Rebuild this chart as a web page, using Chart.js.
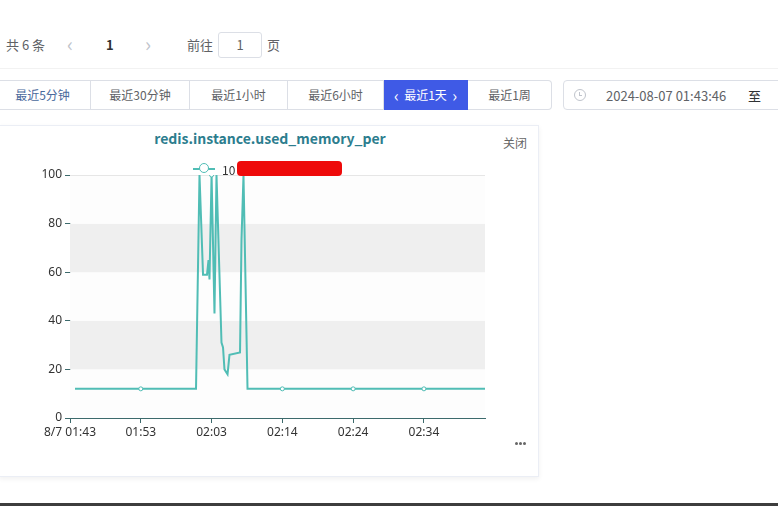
<!DOCTYPE html>
<html>
<head>
<meta charset="utf-8">
<script src="https://cdn.jsdelivr.net/npm/chart.js@4.4.1/dist/chart.umd.min.js"></script>
<style>
  body { margin: 0; width: 778px; height: 506px; overflow: hidden; background: #fff;
         font-family: "Microsoft YaHei", "Noto Sans CJK SC", "Noto Sans", sans-serif; color: #606266; }
  .abs { position: absolute; white-space: nowrap; }
  .pager { top: 36px; font-size: 13px; line-height: 18px; }
  .chev { top: 33px; font-size: 20px; line-height: 22px; color: #c0c4cc; }
  .pin { left: 218px; top: 32px; width: 44px; height: 26px; border: 1px solid #dcdfe6; border-radius: 3px;
         box-sizing: border-box; text-align: center; line-height: 24px; font-size: 13px; color: #606266; }
  .btn { top: 80px; height: 30px; box-sizing: border-box; border: 1px solid #dcdfe6; border-left: none;
         font-size: 12px; line-height: 28px; text-align: center; color: #606266; background: #fff; }
  .btn.on { background: #3f5ae6; border-color: #3f5ae6; color: #fff; }
  .btn.on b { font-weight: normal; font-size: 16px; vertical-align: top; }
  .card { left: -1px; top: 125px; width: 540px; height: 352px; border: 1px solid #ebeef5; box-sizing: border-box;
          box-shadow: 0 2px 5px rgba(0,0,0,0.06); background: #fff; }
  .title { left: 0; width: 540px; top: 128px; text-align: center; font-size: 14px; font-weight: bold; color: #2c7d8e; }
  .dot { top: 442px; width: 3px; height: 3px; border-radius: 50%; background: #666; }
</style>
</head>
<body>
<div class="abs pager" style="left:6px">共 6 条</div>
<div class="abs chev" style="left:67px">&lsaquo;</div>
<div class="abs pager" style="left:106px;font-weight:bold;color:#303133">1</div>
<div class="abs chev" style="left:145px">&rsaquo;</div>
<div class="abs pager" style="left:187px">前往</div>
<div class="abs pin">1</div>
<div class="abs pager" style="left:267px">页</div>
<div class="abs" style="left:0;top:68px;width:778px;height:1px;background:#f2f2f2"></div>

<div class="abs btn" style="left:-6px;width:97px;border-left:1px solid #dcdfe6;color:#4a6a9c">最近5分钟</div>
<div class="abs btn" style="left:91px;width:99px">最近30分钟</div>
<div class="abs btn" style="left:190px;width:98px">最近1小时</div>
<div class="abs btn" style="left:288px;width:96px">最近6小时</div>
<div class="abs btn on" style="left:384px;width:84px"><b>&lsaquo;</b>&nbsp; 最近1天 &nbsp;<b>&rsaquo;</b></div>
<div class="abs btn" style="left:468px;width:84px;border-radius:0 4px 4px 0">最近1周</div>

<div class="abs" style="left:563px;top:80px;width:240px;height:30px;border:1px solid #dcdfe6;border-radius:4px;box-sizing:border-box"></div>
<div class="abs" style="left:574px;top:89px;width:10px;height:10px;border:1px solid #c0c4cc;border-radius:50%"></div>
<div class="abs" style="left:579px;top:92px;width:1px;height:4px;background:#c0c4cc"></div>
<div class="abs" style="left:579px;top:95px;width:3px;height:1px;background:#c0c4cc"></div>
<div class="abs" style="left:606px;top:86px;font-size:13px;color:#606266">2024-08-07 01:43:46</div>
<div class="abs" style="left:748px;top:86px;font-size:13px;color:#303133">至</div>

<div class="abs card"></div>
<div class="abs title">redis.instance.used_memory_per</div>
<div class="abs" style="left:503px;top:134px;font-size:12px;color:#666">关闭</div>
<canvas id="chart" class="abs" style="left:0;top:125px" width="540" height="352"></canvas>
<div class="abs" style="left:193px;top:168px;width:22px;height:2px;background:#50bdb5"></div>
<div class="abs" style="left:199px;top:163px;width:10px;height:10px;border:1.5px solid #50bdb5;border-radius:50%;background:#fff;box-sizing:border-box"></div>
<div class="abs" style="left:222px;top:161px;font-size:12px;color:#333">10</div>
<div class="abs" style="left:237px;top:161px;width:105px;height:15px;background:#ee0a0a;border-radius:4px"></div>
<div class="abs dot" style="left:515px"></div>
<div class="abs dot" style="left:519px"></div>
<div class="abs dot" style="left:523px"></div>
<div class="abs" style="left:0;top:503px;width:778px;height:3px;background:#3d3d3d"></div>

<script>
// minutes since 8/7 01:43
const tickTimes = [0, 10.2, 20.4, 30.6, 40.8, 51.0];
const tickLabels = ['8/7 01:43', '01:53', '02:03', '02:14', '02:24', '02:34'];
const yTicks = [0, 20, 40, 60, 80, 100];

const sampleTimes = [0.72, 10.2, 18.16, 18.66, 19.17, 19.74, 19.96, 20.1, 20.4, 20.82, 21.11,
  21.83, 22.05, 22.26, 22.7, 22.98, 24.5, 24.71, 25.0, 25.58, 30.6, 40.8, 51.0, 59.8];
const memoryPer = [12, 12, 12, 100, 59, 59, 65, 57, 100, 43, 100,
  31, 29, 20, 18, 26, 27, 73, 100, 12, 12, 12, 12, 12];

const lineColor = '#50bdb5';
const axisColor = '#3c6a6c';

// alternating split areas behind the line
const bandPlugin = {
  id: 'bands',
  beforeDatasetsDraw(chart) {
    const { ctx, chartArea, scales } = chart;
    const y = scales.y;
    ctx.save();
    for (let i = 0; i < yTicks.length - 1; i++) {
      const top = y.getPixelForValue(yTicks[i + 1]);
      const bot = y.getPixelForValue(yTicks[i]);
      ctx.fillStyle = i % 2 ? '#efefef' : '#fdfdfd';
      ctx.fillRect(chartArea.left, top, chartArea.right - chartArea.left, bot - top);
    }
    ctx.strokeStyle = '#e6e6e6';
    ctx.lineWidth = 1;
    ctx.beginPath();
    ctx.moveTo(chartArea.left, y.getPixelForValue(100) + 0.5);
    ctx.lineTo(chartArea.right, y.getPixelForValue(100) + 0.5);
    ctx.stroke();
    ctx.restore();
  }
};

const data = sampleTimes.map((t, i) => ({ x: t, y: memoryPer[i] }));

new Chart(document.getElementById('chart'), {
  type: 'line',
  data: {
    datasets: [{
      label: 'used_memory_per',
      data: data,
      borderColor: lineColor,
      borderWidth: 2,
      tension: 0,
      pointRadius: ctx => (ctx.raw && tickTimes.includes(ctx.raw.x) && ctx.raw.x > 0) ? 2 : 0,
      pointBackgroundColor: '#fff',
      pointBorderColor: lineColor,
      pointBorderWidth: 1
    }]
  },
  options: {
    responsive: false,
    animation: false,
    layout: { padding: { left: 0, right: 55, top: 50, bottom: 29 } },
    plugins: { legend: { display: false }, title: { display: false }, tooltip: { enabled: false } },
    scales: {
      x: {
        type: 'linear',
        min: 0,
        max: 59.8,
        afterBuildTicks: s => { s.ticks = tickTimes.map(v => ({ value: v })); },
        afterFit: s => { s.height = 30; },
        ticks: {
          autoSkip: false, maxRotation: 0, padding: 2,
          color: '#333', font: { size: 12, family: '"Microsoft YaHei", "Noto Sans", sans-serif' },
          callback: (v, i) => tickLabels[i]
        },
        grid: { drawOnChartArea: false, drawTicks: true, tickLength: 5, color: axisColor },
        border: { display: true, color: axisColor, width: 1 }
      },
      y: {
        min: 0,
        max: 100,
        afterBuildTicks: s => { s.ticks = yTicks.map(v => ({ value: v })); },
        afterFit: s => { s.width = 70; },
        ticks: {
          padding: 3, color: '#333', font: { size: 12, family: '"Microsoft YaHei", "Noto Sans", sans-serif' }
        },
        grid: { drawOnChartArea: false, drawTicks: true, tickLength: 5, color: axisColor },
        border: { display: true, color: axisColor, width: 1 }
      }
    }
  },
  plugins: [bandPlugin]
});
</script>
</body>
</html>
